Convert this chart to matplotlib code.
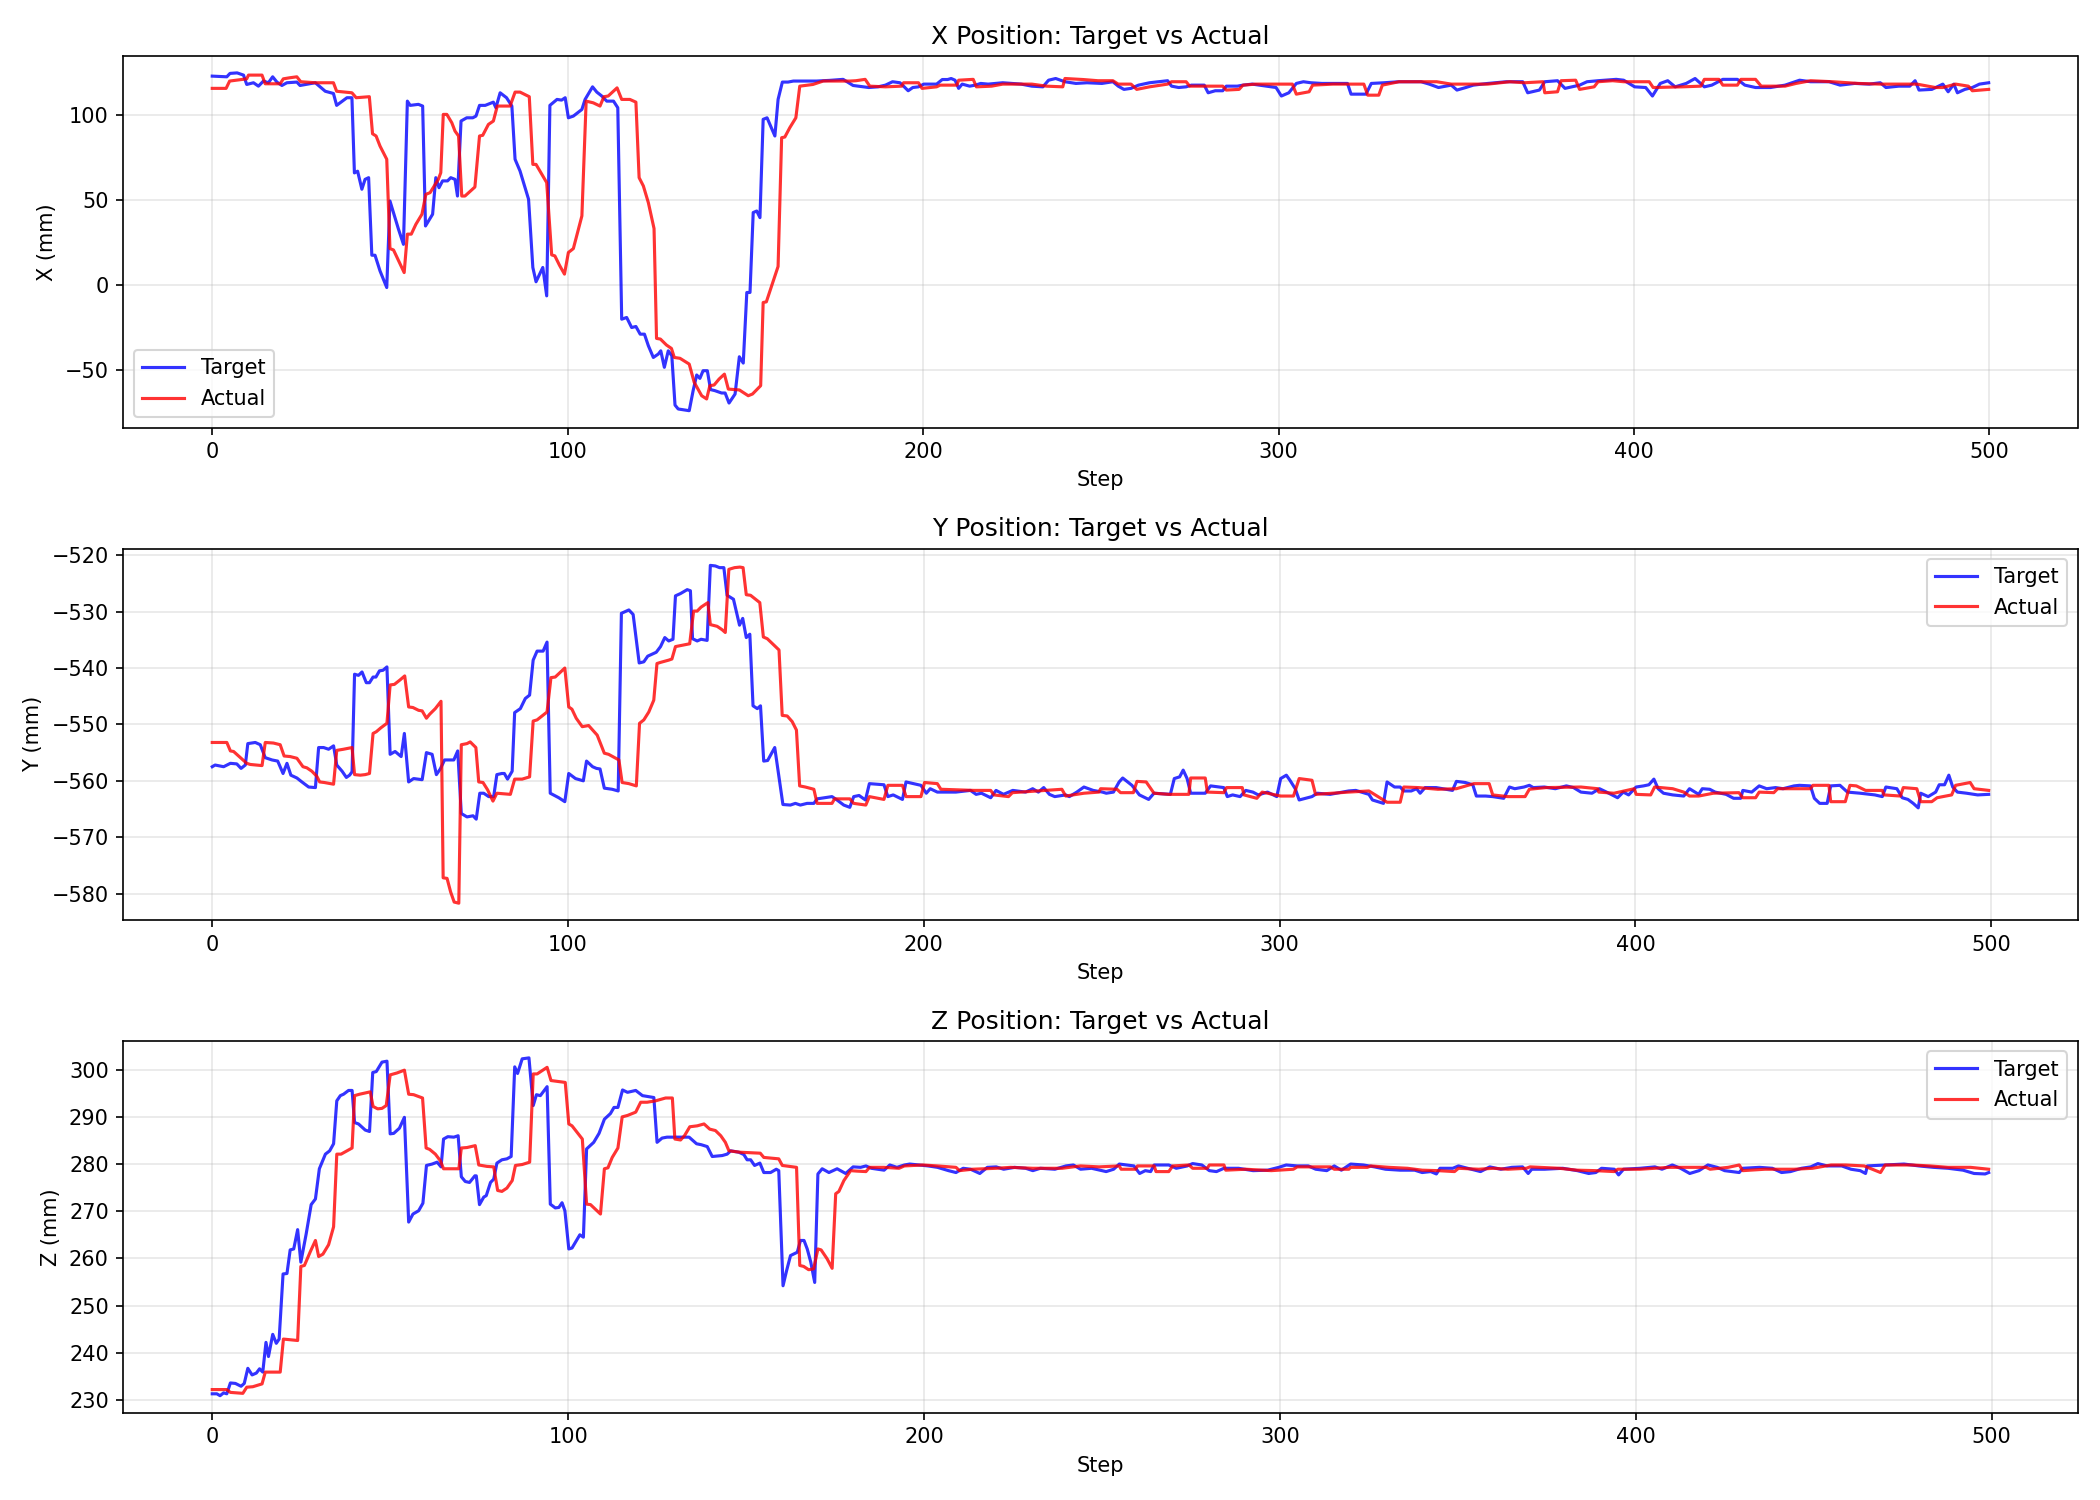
import matplotlib
matplotlib.use("Agg")
import matplotlib.pyplot as plt

# values (step, value) for each trace
x_target_steps = [0, 4.1, 5, 7, 8.8, 9.7, 11.6, 13, 14.4, 15.8, 17, 18.2, 19.6, 21, 23.8, 24.7, 29, 31.8, 34.1, 35, 37.9, 39.3, 40, 40.9, 42.1, 43, 44, 44.9, 45.8, 47.2, 49.1, 50, 52.4, 53.8, 54.9, 55.7, 58, 59.2, 60, 62, 62.9, 63.8, 64.8, 66.2, 67.1, 68.3, 69, 70, 71.6, 73.3, 74.2, 75.2, 76.8, 79.1, 79.8, 81, 82.8, 84.3, 85.2, 86.6, 89, 90.2, 91.1, 93, 94.1, 95, 97, 98.3, 99.3, 100.2, 101.6, 104, 104.9, 107, 108.2, 109.6, 111, 112.9, 114.1, 115.2, 116.6, 118, 119.2, 120.4, 121.6, 122.7, 124.1, 125.5, 126.2, 127.2, 128.3, 129.3, 130.2, 131.1, 134.2, 135.3, 136.3, 137.2, 138.1, 139.3, 140.2, 141.4, 143.3, 144.3, 145.4, 147.1, 148.3, 149.4, 150.4, 151.3, 152.2, 153.2, 154.1, 155, 156.1, 158.3, 159.2, 160.4, 162, 163.5, 166.3, 170, 173.7, 177.5, 180.3,
                  184.7, 187.3, 189.4, 191.4, 193.5, 194.5, 195.8, 197.1, 198.7, 200.2, 203.8, 205.4, 206.9, 207.9, 209, 210, 211, 213.1, 214.7, 216.2, 218.3, 222.4, 227.6, 230.6, 233.7, 235.3, 237.3, 239.9, 243, 246.1, 250.3, 253.4, 254.9, 256.5, 258.5, 260.6, 263.7, 268.8, 269.9, 271.9, 274, 275.5, 279.1, 280.2, 282.2, 284.3, 285.3, 288.4, 290, 292.6, 296.7, 299.3, 300.8, 302.9, 305, 307, 309.1, 312.2, 319.4, 320.4, 324.6, 326.1, 329.7, 333.9, 337, 340.1,
                  342.4, 345, 348.6, 350.2, 352.7, 354.8, 358.9, 364.1, 368.7, 370.1, 373.4, 374.9, 378.5, 380.6, 384.7, 386.8, 389.9, 395, 397.1, 400.2, 403.3, 405.2, 407.4, 409.5, 411.6, 414.7, 417.2, 419.8, 421.9, 425, 429.1, 431.2, 434.2, 438.4, 442.5, 446.6, 449.7, 454.9, 458, 462.1, 466.2, 469.3, 470.9, 474.5, 477.6, 479.1, 480.2, 483.8, 486.9, 488.4, 490, 491, 493.1, 495.2, 497.2, 499.8]
x_target = [122.9, 122.5, 124.5, 124.8, 123.5, 118, 119, 117, 120, 119, 122.5, 119.4, 117.4, 119, 119.4, 117.4, 119, 114, 112.7, 105.7, 110.2, 110.2, 66, 67, 56.4, 62.2, 63.2, 17.6, 17.6, 8.4, -1.4, 49.5, 32.9, 24, 108.2, 105.7, 106.3, 105.3, 34.8, 41.7, 63.2, 57.3, 61.3, 61.3, 63.2, 62.2, 52.4, 96.5, 98.4, 98.4, 99.4, 105.7, 105.7, 107.6, 104.3, 113.1, 110.2, 105.3, 74, 67.1, 50.5, 10.4, 2, 10.4, -6.3, 105.7, 109.2, 108.8, 110.2, 98.4, 99.4, 103.3, 109.2, 116.6, 113.5, 111.2, 108.2, 108.2, 104.3, -20, -19, -24.9, -24.3, -28.8, -28.8, -35.6, -42.5, -40.5, -38.6, -48.3, -38.6, -41.5, -70.5, -72.8, -73.8, -62, -52.8, -54.8, -50.3, -50.3, -61.4, -62, -63.4, -63.4, -69.3, -64, -42.1, -45.8, -4.3, -4.3, 42.7, 43.6, 39.7, 97.5, 98.4, 87.7, 109.2, 119.4, 119.4, 120, 120, 120, 120.4, 121, 117.4,
            116.2, 116.6, 117.6, 119.6, 119, 117, 114.3, 116.2, 116.6, 118.2, 118.2, 120.9, 120.9, 121.5, 120.5, 115.7, 118.2, 117, 117.6, 118.6, 118.2, 119, 118.2, 117, 116.6, 120.5, 121.5, 119.6, 118.6, 119, 118.6, 119.6, 117, 115.1, 115.7, 117.6, 119, 120.2, 117, 116.2, 116.6, 117.6, 117.6, 113.1, 114.3, 114.3, 117, 117, 117.6, 118.2, 117, 116.2, 111.2, 113.1, 118.6, 119.6, 119, 118.6, 118.6, 112.3, 112.3, 118.6, 119, 119.6, 119.6, 119.6,
            118.2, 116.2, 117.6, 114.7, 116.2, 117.6, 118.6, 119.6, 119.6, 113.1, 114.7, 119.6, 120.2, 115.7, 117.6, 119.6, 120.2, 121, 120.5, 116.6, 116.2, 111.2, 118.6, 120.2, 116.6, 118.6, 121.5, 116.6, 117.6, 121, 121, 117.6, 116.2, 116.2, 117.6, 120.5, 119.6, 119.6, 117.6, 118.6, 118.2, 119, 116.2, 117, 117, 120.2, 114.7, 115.1, 118.2, 113.7, 118.2, 113.1, 115.1, 116.2, 118.2, 119]

x_actual_steps = [0, 3.9, 4.9, 9.7, 10.2, 14, 14.9, 19.1, 20, 21.7, 23.8, 24.9, 29, 34.1, 35, 39.3, 40.5, 44.2, 45.1, 46.1, 47.2, 49.1, 50, 51, 54, 54.9, 56, 57.3, 59, 60.1, 61.3, 63.6, 64.3, 65, 66, 67.4, 68.3, 69.3, 70.2, 71.1, 73.9, 75.2, 76.1, 77.7, 79.1, 80.2, 83.8, 85.2, 86.6, 89.2, 90.2, 91.1, 94.1, 95.5, 96.4, 97.7, 99.1, 100.2, 101.6, 104, 105.2, 107.2, 109.1, 110.2, 111.4, 113.9, 115.2, 117.5, 119.2, 120.1, 121.3, 122.7, 124.3, 125, 126.1, 127.8, 129.2, 130, 131.6, 134.2, 135.6, 137.7, 139.1, 140, 141.2, 142.6, 144.1, 145.2, 148.3, 150.8, 152, 154.3, 155, 155.9, 159.2, 160.2, 161.1, 162.5, 164.2, 165.3, 169, 171.9, 175.6, 179.4,
                  181.1, 183.7, 185, 189.4, 194, 194.5, 198.7, 199.7, 203.8, 204.8, 209.5, 210, 214.1, 215, 219.3, 222.4, 230.6, 234.7, 239.3, 239.9, 245, 249.2, 253.4, 254.9, 258.5, 260.1, 263.7, 268.8, 269.9, 274, 275, 279.7, 284.3, 285.3, 288.9, 290, 293.6, 303.9, 305, 308.6, 309.6, 315.3, 324, 325.1, 328.2, 329.2, 333.9, 340.1,
                  344.5, 348.6, 358.9, 365.1, 369.2, 374.4, 374.9, 378.5, 379.5, 383.6, 384.7, 388.8, 389.9, 394, 397.1, 404.3, 405.4, 413.6, 418.8, 419.8, 423.9, 425, 429.1, 430.1, 434.2, 435.8, 442.5, 445.6, 449.7, 455.9, 463.1, 469.3, 479.6, 484.8, 486.9, 490.5, 494.1, 495.2, 499.8]
x_actual = [115.7, 115.7, 120, 121.3, 123.5, 123.5, 118.4, 118.4, 121.3, 121.9, 122.5, 119.6, 119, 119, 114, 113.1, 110.2, 110.8, 89, 87.7, 81.8, 74, 21.5, 20.7, 7.4, 30, 30, 35.8, 41.7, 53.4, 54.4, 62.2, 66.1, 100.4, 100.4, 95.5, 90.6, 87.7, 52.4, 52.4, 57.7, 87.7, 88.1, 94.5, 96.5, 105.3, 105.3, 113.5, 113.5, 110.8, 71, 71, 60.3, 17.8, 17.2, 11.7, 6.5, 19.2, 21.5, 40.7, 108.2, 107.2, 105.3, 110.8, 111.2, 116, 109.2, 109.2, 107.6, 63.2, 58.3, 48.5, 33.3, -31.3, -31.7, -35.2, -37.2, -42.5, -43, -46.4, -57.1, -65, -66.9, -59.1, -58.7, -55.2, -52.3, -61.1, -61.6, -65, -64, -59.1, -10.2, -9.8, 11, 86.7, 87.1, 92.6, 98.4, 117, 118, 120, 120, 120,
            120.2, 121, 117, 116.6, 117, 119, 119, 115.7, 116.6, 117.6, 117.6, 120.5, 121, 116.6, 117, 118.2, 118.2, 117, 116.6, 121.5, 120.9, 120.2, 120.2, 118.2, 118.2, 115.1, 116.6, 118.2, 119.6, 119.6, 117, 117, 117, 114.7, 115.1, 117.6, 118.2, 118.2, 112.3, 113.7, 117.6, 118.2, 118.2, 111.7, 111.7, 117.6, 119.6, 119.6,
            119.6, 118.2, 118.2, 119.6, 119, 119.6, 113.1, 113.7, 120.2, 120.5, 115.1, 116.6, 119.6, 120.2, 119.6, 119.6, 116.2, 116.6, 117, 121, 121, 117.6, 117.6, 121, 121, 117, 117, 118.6, 120.2, 119.6, 118.6, 118.2, 118.2, 116.2, 116.2, 118.2, 117, 114.3, 115.1]

y_target_steps = [0, 0.8, 3.2, 5.1, 6.9, 8.1, 9.3, 10, 12.1, 13.5, 14.9, 16.8, 18.4, 19.9, 21, 22.1, 23.8, 25.2, 27.1, 29, 29.9, 31.3, 32.7, 34.1, 35, 36.5, 37.7, 38.6, 39.3, 40, 41.1, 42.1, 43.3, 44.2, 45.2, 46, 47, 48, 49.1, 50, 51.4, 53.1, 54, 55.2, 56.6, 59, 60.2, 61.8, 63, 64.1, 65.3, 67.9, 69, 70, 71.6, 73.3, 74.2, 75.2, 76.3, 77.7, 79.1, 80, 81.4, 82.1, 83, 84.3, 85, 86.6, 88, 89.2, 90.2, 91.3, 93, 94.1, 95, 96.2, 97.4, 99.1, 100.2, 102.1, 104.3, 105.2, 106.9, 108, 109, 110.2, 112.4, 114.1, 115, 117.1, 118.3, 120, 121.3, 122.4, 124.8, 126, 127.2, 128.3, 129.5, 130.2, 131.6, 133.5, 134.4, 135, 136.3, 137.4, 139.1, 140, 141.4, 142.6, 143.8, 144.7, 146.5, 148.2, 149.1, 150.1, 151.1, 152, 153.2, 154.1, 155, 156.1, 158.1, 160.4, 162.5, 163.9, 165.3, 167.2, 169.1, 170, 174.2, 175.6, 177.5, 179.2, 180.3, 181.8, 183.6,
                  184.7, 188.8, 189.9, 191.4, 194, 195, 197.1, 199.2, 200.7, 201.8, 203.8, 209, 213.1, 214.7, 216.2, 218.8, 220.3, 222.4, 225, 228.6, 230.6, 232.2, 233.7, 235.3, 236.8, 239.9, 240.9, 243, 245, 247.6, 250.2, 251.3, 253.3, 254.9, 255.9, 258.5, 260.6, 263.2, 264.7, 269.3, 270.4, 271.9, 272.9, 274, 275, 279.1, 280.6, 284.3, 285.3, 286.8, 288.9, 290.5, 292.5, 294, 296.6, 299.2, 300.3, 301.9, 302.9, 304.4, 305.5, 309.1, 310.6, 314.2, 319.4, 321.4, 323, 325.1, 326.1, 329.2, 330.2, 332.3, 333.9, 334.9, 337, 338.5, 339.5,
                  340.9, 344, 348.6, 349.7, 352.2, 354.3, 355.3, 357.9, 359.9, 363, 364.6, 366.1, 368.7, 370.2, 371.3, 374.4, 377.5, 380.6, 382.6, 384.7, 387.8, 389.9, 391.9, 395, 396.6, 398.1, 400.2, 402.3, 403.8, 405.2, 406.4, 407.9, 410.5, 413.6, 415.2, 417.8, 418.8, 420.9, 422.4, 425.5, 427.6, 429.6, 430.2, 432.7, 434.8, 436.9, 439.4, 441.5, 444.6, 446.1, 449.2, 450.3, 451.8, 453.9, 454.9, 457.5, 459.6, 463.2, 467.3, 469.4, 470.4, 473.5, 475, 476.6, 478.1, 479.5, 480.2, 482.3, 484.4, 485.4, 486.9, 488.1, 489.2, 490.5, 493.1, 496.2, 499.3]
y_target = [-557.5, -557.2, -557.5, -556.9, -557, -557.8, -557.2, -553.4, -553.2, -553.6, -555.9, -556.3, -556.5, -558.7, -556.9, -559, -559.5, -560.2, -561.1, -561.2, -554.1, -554.1, -554.4, -553.8, -557.2, -558.3, -559.4, -559, -558.4, -541.1, -541.3, -540.7, -542.6, -542.6, -541.6, -541.6, -540.5, -540.4, -539.8, -555.3, -554.8, -555.7, -551.6, -560.2, -559.6, -559.8, -555, -555.3, -558.9, -557.9, -556.3, -556.3, -554.7, -565.8, -566.4, -566.2, -566.8, -562.2, -562.2, -562.8, -562.8, -558.9, -558.7, -558.7, -559.7, -558.3, -547.9, -547.2, -545.4, -544.8, -538.6, -537, -537, -535.4, -562.2, -562.6, -563, -563.7, -558.7, -559.6, -560, -556.5, -557.5, -557.8, -557.9, -561.3, -561.5, -561.8, -530.3, -529.7, -530.5, -539.1, -538.9, -537.9, -537.2, -536.2, -534.6, -535.2, -534.9, -527.2, -526.8, -526.1, -526.3, -534.8, -535.2, -534.9, -535.1, -521.8, -521.9, -522.2, -522.2, -527.1, -527.8, -532.4, -531.2, -534.6, -534, -546.7, -547.2, -546.7, -556.5, -556.4, -554.1, -564.2, -564.3, -564, -564.3, -564, -564, -563.2, -562.8, -563.4, -564.3, -564.7, -562.8, -562.6, -563.4,
            -560.5, -560.7, -562.8, -562.5, -563.3, -560.2, -560.5, -560.8, -562.2, -561.4, -562, -562, -561.7, -562.4, -562.2, -563, -561.7, -562.4, -561.7, -562, -561.4, -562, -561.2, -562.4, -562.8, -562.5, -562.8, -562, -561.1, -561.7, -562, -562.2, -562, -560.2, -559.5, -560.8, -562.5, -563.3, -562.2, -562.4, -559.6, -559.3, -558.1, -559.6, -562.2, -562.2, -560.9, -561.2, -562.8, -562.5, -562.8, -561.7, -562, -562.5, -562, -562.8, -559.6, -559, -559.9, -561.4, -563.4, -562.8, -562.2, -562.4, -561.8, -561.7, -562, -562.4, -563.4, -564, -560.2, -561.1, -561.1, -561.8, -561.8, -561.4, -562.2,
            -561.2, -561.2, -561.7, -560.1, -560.3, -560.7, -562.7, -562.7, -562.8, -563.1, -561.1, -561.4, -561.1, -560.8, -561.2, -561.1, -561.4, -560.9, -561.2, -562, -562.2, -561.4, -562, -563, -562, -562.5, -561.1, -560.9, -560.7, -559.7, -561.4, -562.2, -562.5, -562.7, -561.4, -562.4, -561.4, -561.5, -562, -562.4, -563.1, -563.1, -561.7, -562, -560.9, -561.4, -561.2, -561.4, -560.9, -560.8, -560.9, -563.1, -564, -564, -560.9, -560.8, -562, -562.2, -562.5, -562.8, -561.1, -561.4, -563, -563.3, -564, -564.8, -562.2, -562.8, -562, -560.7, -560.7, -559, -561.1, -562, -562.2, -562.5, -562.4]

y_actual_steps = [0, 4.1, 5.1, 6, 7.4, 9.7, 10.7, 14, 14.9, 17.2, 19.1, 20.2, 21.9, 23.8, 25.5, 26.6, 28, 29.4, 30.2, 31.5, 34.1, 35, 36.9, 39.3, 40, 41.6, 43, 44.2, 45.2, 46.1, 47.4, 49.1, 50, 51.2, 52.8, 54.1, 55.2, 56.4, 58, 59, 60.2, 61.1, 62.7, 64.3, 64.9, 66, 67, 68, 69.3, 70, 71.6, 72.5, 74.1, 74.9, 76.1, 77.4, 78.9, 80, 83.8, 85, 87.1, 89.2, 90.2, 91.3, 94.1, 95.2, 96.4, 99.1, 100.2, 101.1, 102.3, 104, 105.8, 108.2, 110.2, 111.4, 114.3, 115.2, 117.1, 119.2, 120.1, 121.3, 122.7, 124.1, 125, 126, 128.3, 129.2, 130.2, 133.5, 134.2, 135.3, 136.3, 137.4, 139.3, 140, 141.9, 143.3, 144.2, 145.2, 146.8, 148.3, 149.2, 150.1, 151.3, 153.9, 154.9, 156, 159.3, 160.2, 161.6, 163, 164.2, 165.1, 166.7, 169.1, 170, 174.2, 174.9, 179.2, 180.3, 183.7,
                  184.7, 188.8, 189.9, 194, 195, 199.2, 200.2, 203.8, 204.8, 214.1, 218.8, 219.7, 223.8, 224.9, 238.8, 239.9, 245, 249.2, 249.7, 254.3, 255.3, 258.9, 259.9, 262.5, 264.7, 268.8, 274.5, 275, 279.1, 279.7, 284.3, 285.1, 289.5, 290, 293.6, 295.1, 298.8, 300.3, 303.9, 305.5, 309.1, 310.1, 314.7, 319.4, 325.1, 330.2, 333.9, 334.9, 339,
                  344.5, 349.7, 354.6, 358.9, 359.9, 364.1, 369, 370.2, 374.9, 384.7, 389.4, 389.7, 394, 399.7, 400.2, 404.3, 405.4, 410.5, 413.6, 415.2, 417.8, 421.9, 429.1, 430.2, 433.8, 434.8, 438.9, 440, 449.2, 449.9, 454.4, 454.9, 459, 460.3, 462.1, 464.7, 469.4, 469.9, 474.5, 475.3, 479.1, 480.2, 483.3, 484.8, 488.9, 490, 494.1, 495.2, 499.3]
y_actual = [-553.2, -553.2, -554.7, -554.8, -555.6, -556.9, -557.1, -557.3, -553.2, -553.3, -553.6, -555.6, -555.7, -556, -557.5, -557.7, -558.3, -559.2, -560.2, -560.3, -560.6, -554.6, -554.4, -554.1, -558.9, -559, -558.9, -558.7, -551.6, -551.3, -550.6, -549.8, -543, -542.9, -542.1, -541.4, -546.9, -547, -547.5, -547.6, -548.9, -548.2, -547.2, -545.9, -577.2, -577.3, -579.7, -581.5, -581.7, -553.6, -553.4, -553.1, -554.1, -560.2, -560.3, -561.6, -563.6, -562.2, -562.4, -559.7, -559.7, -559.3, -549.4, -549.2, -547.8, -541.7, -541.6, -540, -546.9, -547.3, -548.9, -550.4, -550.2, -551.9, -555.1, -555.3, -556.3, -560.3, -560.5, -560.9, -549.8, -549.2, -547.8, -545.7, -539.2, -539, -538.6, -538.4, -536.2, -535.8, -535.7, -529.9, -529.9, -529.2, -528.4, -532.3, -532.6, -533.2, -533.7, -522.5, -522.2, -522.1, -522.2, -527, -527.1, -528.4, -534.5, -534.8, -536.8, -548.4, -548.5, -549.5, -551, -560.9, -561.1, -561.5, -564, -564, -563.2, -563.2, -564, -564.3,
            -562.8, -563.3, -560.8, -560.8, -562.8, -562.8, -560.3, -560.5, -561.5, -561.7, -561.7, -562.5, -562.8, -562.1, -561.5, -562.7, -562.2, -562, -561.4, -561.5, -562.1, -562.1, -560.1, -560.2, -562.2, -562.4, -562.4, -559.5, -559.5, -562, -562.1, -561.2, -561.2, -562.5, -563.1, -562, -562.5, -562.7, -562.7, -559.6, -559.9, -562.4, -562.2, -562, -561.8, -563.8, -563.8, -561.1, -561.2,
            -561.5, -561.4, -560.5, -560.5, -562.5, -562.8, -562.8, -561.5, -561.2, -561.1, -561.4, -562, -562.2, -561.4, -562.4, -562.5, -561.1, -561.4, -562, -562.7, -562.7, -562.2, -562.1, -563, -563, -562, -562.1, -561.4, -561.4, -560.8, -560.8, -563.7, -563.7, -560.8, -560.9, -561.7, -561.7, -562.5, -562.7, -561.2, -561.4, -563.7, -563.7, -563, -562.5, -560.8, -560.3, -561.4, -561.7]

z_target_steps = [0, 1.3, 2.2, 3.2, 4.1, 5.1, 6.5, 8.1, 9, 10, 11.2, 12.4, 13.3, 14.2, 15.1, 15.8, 17, 18, 18.8, 19.9, 21, 21.9, 22.9, 24, 24.9, 26.4, 27.8, 29, 30.1, 31.8, 33, 34.1, 35, 36, 36.9, 38.3, 39.3, 40, 41.1, 43, 44.2, 45.1, 46.1, 47.7, 49.1, 50, 51, 52.6, 54, 55.2, 56.4, 58, 59.2, 60.2, 61.8, 63.2, 64.3, 65, 66.2, 67.9, 69.1, 70, 71.1, 72.3, 73.8, 74.2, 75.1, 76.3, 77, 78.2, 79.1, 80, 81.4, 82.8, 84, 85, 85.8, 87.1, 89, 90.2, 91.1, 92.2, 94.1, 95, 96.4, 97.4, 98.3, 99.1, 100.2, 101.1, 103.3, 104.3, 105.2, 107.2, 108.7, 110.2, 111.9, 112.9, 114, 115.3, 116.7, 119, 120.9, 124.1, 125, 126.4, 127.8, 130.7, 134, 136.1, 137.4, 139.1, 140.5, 143.3, 144.7, 145.7, 148, 149.4, 150.3, 151.3, 152.4, 153.9, 155, 156.9, 158.5, 159.2, 160.4, 161.4, 162.5, 164.4, 165.3, 166.3, 167.2, 168.2, 169.3, 170.2, 171.4, 173.3, 175.6, 178, 180.1, 182.2,
                  183.7, 185.2, 188.8, 190.4, 192.4, 194.5, 196, 198.7, 201.2, 203.8, 206.9, 209, 211, 213.1, 215.7, 217.8, 220.3, 222.4, 225.5, 228.6, 230.6, 232.7, 236.8, 239.9, 242, 244, 247.1, 251.2, 253.3, 254.9, 259, 260.6, 262.2, 263.7, 264.7, 268.8, 270.9, 274, 275.5, 278.1, 280.2, 282.2, 284.3, 288.4, 292.5, 296.6, 299.7, 301.8, 304.9, 308, 310.1, 313.2, 315.3, 317.3, 319.9, 323.5, 326.6, 329.7, 333.8, 337.9, 340,
                  342.4, 344, 345, 348.6, 350.2, 353.8, 356.4, 359, 362.1, 365.2, 368.2, 369.8, 370.8, 374.4, 379.5, 383.6, 386.8, 388.8, 390.4, 394, 395.2, 396.6, 401.2, 405.4, 407.4, 410.3, 412.6, 415.2, 417.8, 420.3, 422.9, 425, 429.1, 430.1, 434.8, 438.4, 441, 443.5, 446.6, 449.2, 451.2, 453.8, 457.9, 460.5, 463.1, 464.6, 465.1, 470.3, 475.4, 479.6, 483.7, 487.8, 492, 495.1, 498.2, 499.2]
z_target = [231.3, 231.3, 230.9, 231.5, 231.3, 233.6, 233.5, 232.9, 233.5, 236.7, 235.3, 235.7, 236.6, 235.9, 242.2, 239.2, 243.9, 242, 242.9, 256.7, 256.8, 261.8, 262, 266.1, 259.2, 265.2, 271.4, 272.6, 279, 282.1, 282.8, 284.3, 293.4, 294.5, 294.8, 295.6, 295.6, 288.8, 288.5, 287.2, 286.9, 299.4, 299.6, 301.6, 301.8, 286.4, 286.5, 287.6, 289.9, 267.7, 269.4, 270.1, 271.7, 279.7, 280, 280.4, 279.4, 285.3, 285.8, 285.7, 286, 277.3, 276.3, 276.1, 277.5, 277.5, 271.4, 273, 273.3, 276.1, 276.8, 280.2, 280.9, 281.1, 281.6, 300.6, 299.2, 302.3, 302.5, 292.4, 294.7, 294.5, 296.4, 271.5, 270.7, 270.8, 271.8, 270.1, 262, 262.2, 265, 264.5, 283.2, 284.6, 286.5, 289.5, 290.7, 292, 292, 295.7, 295.2, 295.6, 294.5, 294.1, 284.6, 285.5, 285.7, 285.7, 285.7, 284.3, 284.1, 283.7, 281.6, 281.8, 282.1, 282.8, 282.5, 282, 280.9, 280.9, 279.7, 280.2, 278.2, 278.2, 278.9, 278.6, 254.2, 257.4, 260.6, 261.3, 263.8, 263.8, 262, 259.2, 254.9, 277.9, 279, 278.2, 279, 278, 279.4, 279.3,
            279.6, 279.1, 278.7, 279.8, 279.3, 279.8, 280, 279.8, 279.6, 279.3, 278.6, 278.2, 279.1, 278.9, 278, 279.3, 279.4, 278.9, 279.3, 279.1, 278.6, 279.1, 278.9, 279.6, 279.8, 278.9, 279.1, 278.4, 278.9, 280, 279.6, 278, 278.6, 278.4, 279.8, 279.8, 279.1, 279.6, 280.1, 279.8, 278.6, 278.4, 279.1, 279.1, 278.6, 278.7, 279.3, 279.8, 279.6, 279.6, 278.9, 278.6, 279.6, 278.7, 280, 279.8, 279.4, 278.9, 278.7, 278.7, 278.2,
            278.4, 277.9, 279.1, 279.1, 279.6, 278.9, 278.4, 279.4, 278.9, 279.3, 279.4, 278, 278.9, 278.9, 279.1, 278.6, 278, 278.2, 279.1, 278.9, 277.7, 278.9, 279.1, 279.4, 278.9, 279.8, 279.1, 278, 278.6, 279.8, 279.3, 278.6, 278.2, 279.1, 279.3, 279.1, 278.2, 278.4, 279.1, 279.4, 280.1, 279.6, 279.6, 278.9, 278.6, 278, 279.6, 279.8, 280, 279.6, 279.3, 279.1, 278.7, 278, 277.9, 278.2]

z_actual_steps = [0, 4.1, 5.1, 8.6, 9.7, 11.4, 14, 14.9, 19.1, 20, 24, 24.9, 25.9, 27.6, 29, 29.9, 31.1, 32.7, 34.1, 35, 36.2, 39.3, 40, 41.4, 44.4, 45.2, 46.5, 47.7, 48.9, 50, 51.9, 54, 55.2, 56.6, 59.1, 60.1, 61.1, 62.7, 64.1, 65, 69.3, 70, 71.6, 73.9, 74.9, 77.2, 79.1, 80.2, 81.4, 82.8, 84.3, 85.2, 87.1, 89.2, 90.2, 91.3, 94.1, 95.2, 99.2, 100.2, 101.1, 104, 105.2, 106.3, 109.1, 110.2, 111.2, 112.4, 114, 115.2, 116.7, 119, 120.4, 122.2, 124.6, 127.4, 129.3, 130, 131.6, 132.7, 134.2, 136.3, 138.2, 139.8, 141.4, 142.9, 144.2, 145.2, 148.4, 154, 155, 159.2, 160.2, 164.2, 165.1, 166.2, 167.6, 169, 170.2, 171.1, 172.8, 174.2, 175.2, 176.1, 177.5, 179.4, 181.2,
                  183.7, 184.7, 188.8, 193, 194.5, 199.7, 203.8, 209, 210, 213.6, 220.3, 224.4, 230.6, 238.8, 244, 249.2, 254.9, 255.4, 259.5, 260, 264.7, 265.2, 268.8, 269.9, 274.5, 275.5, 279.6, 280.2, 284.3, 284.8, 290.4, 297.6, 303.8, 304.9, 314.2, 315.3, 319.4, 319.9, 324.6, 325.6, 330.7, 335.9, 340,
                  344.5, 349.1, 350.2, 355.9, 360, 364.1, 369.3, 370.3, 378.5, 383.6, 388.8, 394, 395, 401.2, 409.4, 419.8, 420.9, 426, 429.1, 430.1, 436.3, 444.6, 449.7, 454.9, 459, 464.2, 468.8, 470.1, 477.6, 482.7, 487.8, 494.1, 499.2]
z_actual = [232.2, 232.2, 231.6, 231.4, 232.7, 232.8, 233.4, 235.9, 235.9, 242.9, 242.6, 258.3, 258.5, 261.5, 263.8, 260.4, 260.9, 262.9, 266.7, 282.1, 282.1, 283.4, 294.5, 294.8, 295.3, 292.2, 291.7, 291.8, 292.4, 298.9, 299.3, 299.9, 294.8, 294.7, 294, 283.4, 283.1, 282.1, 280.7, 279, 279, 283.4, 283.5, 283.9, 279.8, 279.5, 279.4, 274.4, 274.2, 274.9, 276.5, 279.7, 279.9, 280.4, 299.1, 299.1, 300.5, 297.7, 297.3, 288.5, 288.1, 285.3, 271.5, 271.4, 269.4, 279, 279.2, 281.4, 283.4, 290, 290.3, 291, 293.1, 293.1, 293.4, 294, 294, 285.3, 285.1, 286, 287.9, 288.1, 288.5, 287.4, 287.1, 286, 284.6, 282.8, 282.5, 282.3, 281.4, 281.1, 279.7, 279.3, 258.5, 258.3, 257.6, 257.8, 262, 261.8, 259.9, 257.9, 273.7, 274.2, 276.5, 278.6, 278.5,
            278.4, 279.3, 279.3, 279.1, 279.6, 279.8, 279.6, 279.3, 278.6, 278.9, 279.1, 279.3, 279.1, 279.1, 279.6, 279.4, 279.6, 278.9, 278.9, 279.6, 279.6, 278.4, 278.4, 279.6, 279.8, 279.1, 279.1, 279.8, 279.8, 278.7, 278.9, 278.6, 278.9, 279.4, 279.4, 278.9, 278.9, 279.3, 279.3, 279.6, 279.3, 279.1, 278.7,
            278.6, 278.4, 279.1, 278.9, 279.1, 278.9, 279.1, 279.4, 279.1, 278.7, 278.6, 278.4, 278.9, 278.9, 279.3, 279.3, 278.9, 279.3, 279.8, 278.6, 278.9, 278.9, 279.1, 279.8, 279.8, 279.6, 278.2, 279.8, 279.8, 279.6, 279.3, 279.3, 278.9]

panels = [
    ("X", x_target_steps, x_target, x_actual_steps, x_actual, "lower left"),
    ("Y", y_target_steps, y_target, y_actual_steps, y_actual, "upper right"),
    ("Z", z_target_steps, z_target, z_actual_steps, z_actual, "upper right"),
]

fig, axes = plt.subplots(3, 1, figsize=(14, 10))

for ax, (name, ts, tv, as_, av, loc) in zip(axes, panels):
    ax.plot(ts, tv, 'b-', label='Target', alpha=0.8, linewidth=1.5)
    ax.plot(as_, av, 'r-', label='Actual', alpha=0.8, linewidth=1.5)
    ax.set_title(f"{name} Position: Target vs Actual")
    ax.set_xlabel("Step")
    ax.set_ylabel(f"{name} (mm)")
    ax.legend(loc=loc)
    ax.grid(True, alpha=0.3)

plt.tight_layout()
plt.savefig("out.png", dpi=150)
